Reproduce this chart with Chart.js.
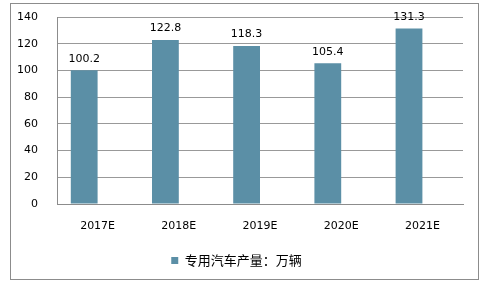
<!DOCTYPE html>
<html>
<head>
<meta charset="utf-8">
<script src="https://cdn.jsdelivr.net/npm/chart.js@4/dist/chart.umd.min.js"></script>
<style>
  html, body { margin: 0; padding: 0; background: #fff; }
  #wrap { position: relative; width: 481px; height: 285px; }
  #frame { position: absolute; left: 10px; top: 3px; width: 467px; height: 275px; border: 1px solid #8c8c8c; }
  canvas { position: absolute; left: 0; top: 0; }
</style>
</head>
<body>
<div id="wrap">
  <div id="frame"></div>
  <canvas id="chart" width="481" height="285"></canvas>
</div>
<script>
// Chart data
const years = ['2017E', '2018E', '2019E', '2020E', '2021E'];
const output = [100.2, 122.8, 118.3, 105.4, 131.3];
const seriesName = '专用汽车产量：万辆';
const yTicks = [0, 20, 40, 60, 80, 100, 120, 140];

const BAR_COLOR = '#5b8fa6';
const FONT = 'DejaVu Sans, Verdana, sans-serif';

// Value labels above the bars
const valueLabels = {
  id: 'valueLabels',
  afterDatasetsDraw(chart) {
    const ctx = chart.ctx;
    const meta = chart.getDatasetMeta(0);
    ctx.save();
    ctx.font = '11px ' + FONT;
    ctx.fillStyle = '#000';
    ctx.textAlign = 'center';
    ctx.textBaseline = 'bottom';
    meta.data.forEach((bar, i) => {
      ctx.fillText(output[i].toFixed(1), bar.x, bar.y - 6);
    });
    ctx.restore();
  },
};

new Chart(document.getElementById('chart'), {
  type: 'bar',
  data: {
    labels: years,
    datasets: [
      { label: seriesName, data: output, backgroundColor: BAR_COLOR },
      // empty second slot, mimics the offset bar position of the original
      { label: '', data: years.map(() => null), backgroundColor: 'transparent' },
    ],
  },
  options: {
    responsive: false,
    animation: false,
    layout: { padding: { left: 10, right: 18, top: 17, bottom: 8 } },
    datasets: { bar: { categoryPercentage: 0.66, barPercentage: 1 } },
    plugins: {
      legend: {
        position: 'bottom',
        labels: {
          filter: (item) => item.datasetIndex === 0,
          boxWidth: 7,
          boxHeight: 7,
          padding: 10,
          color: '#000',
          font: { family: 'Noto Sans CJK SC', size: 13 },
        },
      },
      tooltip: { enabled: false },
    },
    scales: {
      x: {
        grid: { display: false, drawTicks: false },
        border: { color: '#8c8c8c' },
        ticks: { color: '#000', padding: 16, font: { family: FONT, size: 11 } },
        afterFit: (s) => { s.height = 40; },
      },
      y: {
        min: 0,
        max: 140,
        afterBuildTicks: (s) => { s.ticks = yTicks.map((v) => ({ value: v })); },
        grid: { color: '#999', drawTicks: false },
        border: { color: '#8c8c8c' },
        ticks: { color: '#000', padding: 19, font: { family: FONT, size: 11 } },
        // fixed width; drop the tick-padding that would push the plot top down
        afterFit: (s) => { s.width = 47; s.paddingTop = 0; s.paddingBottom = 0; },
      },
    },
  },
  plugins: [valueLabels],
});
</script>
</body>
</html>
